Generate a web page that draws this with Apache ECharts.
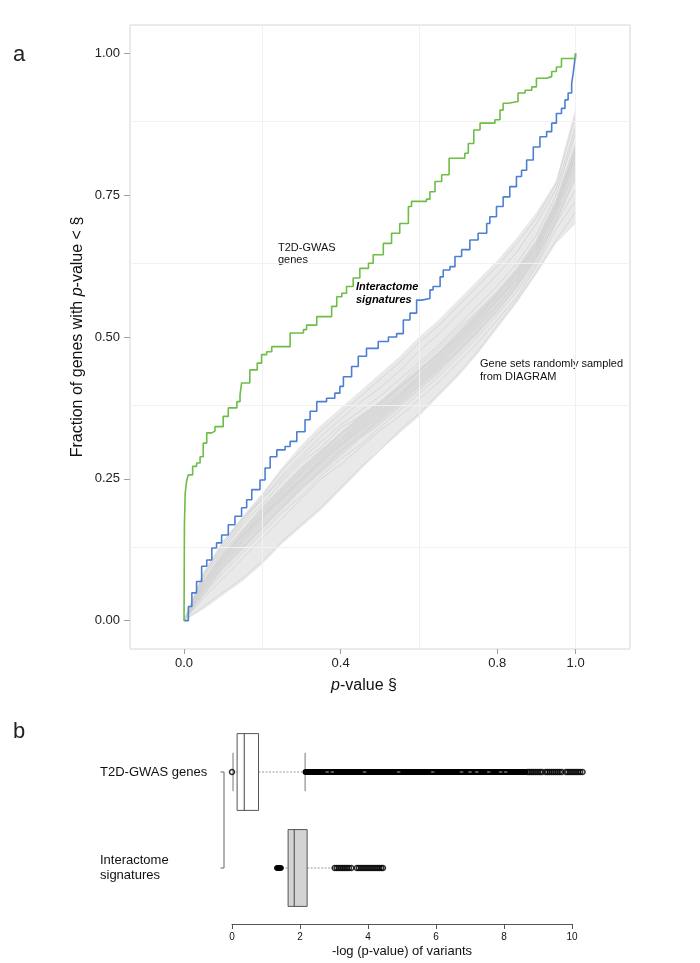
<!DOCTYPE html>
<html><head><meta charset="utf-8">
<script src="https://cdn.jsdelivr.net/npm/echarts@6/dist/echarts.min.js"></script>
<style>html,body{margin:0;padding:0;background:#fff}#c{width:700px;height:963px}</style>
</head><body><div id="c"></div>
<script>
// ---------- Panel a data ----------
const xTickValues = [0, 0.4, 0.8, 1.0];
const yTickValues = [0, 0.25, 0.5, 0.75, 1.0];
const xGridValues = [0.2, 0.6, 1.0];
const yGridValues = [0.125, 0.375, 0.625, 0.875];

const t2dP = [0,0.001,0.003,0.007,0.011,0.022,0.032,0.041,0.049,0.058,0.071,0.079,0.1,0.113,0.135,0.143,0.147,0.168,0.187,0.198,0.211,0.224,0.271,0.305,0.313,0.339,0.377,0.39,0.403,0.415,0.432,0.449,0.471,0.483,0.509,0.53,0.551,0.573,0.581,0.619,0.628,0.641,0.658,0.677,0.717,0.726,0.74,0.756,0.794,0.807,0.815,0.828,0.853,0.871,0.888,0.9,0.926,0.939,0.951,0.964,1.0];
const t2dFrac = [0,0.17,0.225,0.248,0.257,0.272,0.278,0.289,0.313,0.331,0.334,0.342,0.36,0.375,0.386,0.398,0.419,0.442,0.454,0.469,0.474,0.483,0.507,0.513,0.521,0.536,0.554,0.571,0.577,0.589,0.604,0.621,0.63,0.645,0.665,0.683,0.7,0.73,0.739,0.743,0.756,0.774,0.786,0.815,0.824,0.841,0.865,0.877,0.883,0.9,0.912,0.915,0.93,0.935,0.941,0.956,0.959,0.968,0.976,0.991,1.0];

const intP = [0,0.011,0.02,0.032,0.045,0.058,0.071,0.083,0.096,0.113,0.13,0.147,0.16,0.173,0.194,0.207,0.22,0.237,0.258,0.271,0.288,0.309,0.322,0.339,0.364,0.385,0.398,0.407,0.428,0.445,0.466,0.496,0.522,0.543,0.56,0.577,0.594,0.607,0.628,0.636,0.654,0.662,0.679,0.692,0.709,0.73,0.751,0.773,0.781,0.798,0.815,0.832,0.849,0.862,0.875,0.892,0.909,0.926,0.939,0.951,0.964,0.973,0.981,0.99,0.994,0.998,1.0];
const intFrac = [0,0.025,0.049,0.069,0.096,0.107,0.128,0.137,0.151,0.169,0.184,0.199,0.213,0.231,0.248,0.269,0.289,0.301,0.307,0.316,0.333,0.354,0.369,0.386,0.392,0.401,0.413,0.43,0.448,0.466,0.48,0.492,0.5,0.506,0.53,0.542,0.565,0.568,0.583,0.589,0.606,0.618,0.624,0.642,0.654,0.671,0.683,0.7,0.712,0.73,0.747,0.765,0.783,0.794,0.812,0.835,0.853,0.862,0.877,0.894,0.903,0.918,0.93,0.947,0.965,0.988,1.0];

// random DIAGRAM gene sets (read at p = 0, 0.05, ..., 1)
const randP    = [0,.05,.1,.15,.2,.25,.3,.35,.4,.45,.5,.55,.6,.65,.7,.75,.8,.85,.9,.95,1];
const randLow  = [0,.02,.045,.07,.10,.135,.165,.195,.23,.265,.30,.33,.36,.395,.43,.47,.515,.56,.61,.665,.70];
const randHigh = [0,.085,.14,.185,.225,.27,.31,.345,.375,.405,.435,.465,.50,.53,.565,.60,.635,.675,.72,.775,.905];
const randCoreLow  = [0,.045,.09,.125,.16,.195,.23,.26,.29,.32,.345,.375,.405,.435,.47,.505,.545,.585,.635,.70,.78];
const randCoreHigh = [0,.07,.12,.16,.20,.235,.27,.30,.33,.36,.385,.415,.445,.475,.51,.545,.58,.62,.67,.74,.84];
const rand01 = [0,.07,.12,.16,.20,.235,.27,.30,.33,.355,.38,.41,.44,.47,.505,.54,.575,.615,.665,.735,.83];
const rand02 = [0,.055,.10,.14,.18,.215,.245,.28,.31,.335,.36,.39,.42,.45,.485,.52,.555,.595,.645,.715,.80];
const rand03 = [0,.08,.13,.175,.215,.25,.285,.315,.345,.37,.395,.425,.455,.485,.52,.555,.59,.63,.68,.75,.86];
const rand04 = [0,.045,.085,.12,.155,.19,.22,.255,.285,.31,.34,.37,.40,.43,.465,.50,.54,.58,.63,.70,.76];
const rand05 = [0,.065,.115,.15,.19,.225,.26,.29,.32,.35,.375,.40,.43,.46,.495,.53,.565,.605,.655,.72,.82];
const rand06 = [0,.075,.125,.17,.205,.245,.28,.305,.34,.36,.385,.415,.45,.48,.515,.545,.58,.62,.67,.74,.84];
const rand07 = [0,.06,.105,.145,.185,.22,.25,.285,.315,.345,.37,.395,.425,.455,.49,.525,.565,.60,.65,.725,.81];
const rand08 = [0,.05,.095,.13,.165,.20,.235,.265,.30,.325,.355,.385,.415,.445,.475,.51,.545,.59,.64,.705,.78];
const rand09 = [0,.085,.14,.18,.22,.265,.30,.335,.365,.395,.425,.455,.49,.52,.555,.59,.625,.665,.71,.77,.89];
const rand10 = [0,.025,.05,.075,.105,.14,.17,.20,.235,.27,.30,.335,.365,.40,.435,.475,.52,.565,.615,.67,.72];
const rand11 = [0,.07,.11,.155,.195,.23,.265,.295,.33,.36,.385,.41,.44,.47,.50,.535,.57,.61,.66,.73,.83];
const rand12 = [0,.06,.11,.15,.185,.215,.25,.28,.31,.34,.365,.395,.43,.465,.50,.535,.575,.615,.66,.73,.82];
const rand13 = [0,.04,.075,.11,.145,.18,.215,.25,.275,.305,.335,.36,.39,.42,.455,.49,.53,.57,.625,.69,.74];
const rand14 = [0,.08,.135,.18,.215,.255,.29,.325,.355,.385,.41,.44,.475,.505,.54,.575,.61,.65,.70,.76,.87];
const randCurves = [rand01,rand02,rand03,rand04,rand05,rand06,rand07,rand08,rand09,rand10,rand11,rand12,rand13,rand14];

// ---------- Panel b data ----------
const boxCategories = ['T2D-GWAS genes', 'Interactome\nsignatures'];
// [whiskerLow, Q1, median, Q3, whiskerHigh]
const t2dBox = [0.03, 0.15, 0.36, 0.78, 2.15];
const intBox = [1.47, 1.65, 1.83, 2.21, 3.0];
const t2dOutlierRun = [2.15, 8.65];
const t2dOutliers = [0.0, 8.70, 8.76, 8.82, 8.88, 8.94, 9.00, 9.06, 9.12, 9.22, 9.28, 9.34, 9.40, 9.46, 9.52, 9.58, 9.64, 9.70, 9.82, 9.88, 9.94, 10.00, 10.06, 10.12, 10.18, 10.24, 10.31];
const t2dLightSpots = [2.8, 2.95, 3.9, 4.9, 5.9, 6.75, 7.0, 7.2, 7.55, 7.9, 8.05];
const intOutliersLow = [1.32, 1.35, 1.38, 1.41, 1.44];
const intOutliersHigh = [3.02, 3.08, 3.14, 3.20, 3.26, 3.32, 3.38, 3.44, 3.51, 3.67, 3.73, 3.79, 3.85, 3.91, 3.97, 4.03, 4.09, 4.15, 4.21, 4.27, 4.33, 4.39, 4.44];

// ---------- chart ----------
const FONT = "'Liberation Sans', Arial, Helvetica, sans-serif";
const chart = echarts.init(document.getElementById('c'), null, {renderer: 'canvas'});

const boxStyles = [{fill: '#ffffff', staple: true}, {fill: '#d3d3d3', staple: false}];

function bandPolygon(low, high, fill) {
  return function (params, api) {
    const pts = [];
    for (let i = 0; i < randP.length; i++) pts.push(api.coord([randP[i], high[i]]));
    for (let i = randP.length - 1; i >= 0; i--) pts.push(api.coord([randP[i], low[i]]));
    return {type: 'polygon', shape: {points: pts}, style: {fill: fill}};
  };
}

const series = [];
// gridlines (panel a)
series.push({
  type: 'line', xAxisIndex: 0, yAxisIndex: 0, data: [[0, 0]], symbol: 'none',
  lineStyle: {opacity: 0}, z: 0, silent: true,
  markLine: {
    silent: true, symbol: 'none', label: {show: false},
    lineStyle: {color: '#f1f1f1', width: 1, type: 'solid'},
    data: xGridValues.map(v => ({xAxis: v})).concat(yGridValues.map(v => ({yAxis: v})))
  }
});
// band of random sets
series.push({type: 'custom', xAxisIndex: 0, yAxisIndex: 0, data: [[0]], z: 1, silent: true,
  renderItem: bandPolygon(randLow, randHigh, '#e9e9e9')});
series.push({type: 'custom', xAxisIndex: 0, yAxisIndex: 0, data: [[0]], z: 1, silent: true,
  renderItem: bandPolygon(randCoreLow, randCoreHigh, '#dddddd')});
randCurves.forEach(function (c) {
  series.push({
    type: 'line', xAxisIndex: 0, yAxisIndex: 0, symbol: 'none', silent: true, z: 2,
    data: randP.map((p, i) => [p, c[i]]),
    lineStyle: {color: '#cecece', width: 0.7}
  });
});
series.push({
  type: 'line', name: 'Interactome signatures', xAxisIndex: 0, yAxisIndex: 0, symbol: 'none', step: 'end', z: 5,
  data: intP.map((p, i) => [p, intFrac[i]]),
  lineStyle: {color: '#4c7fd3', width: 1.6}
});
series.push({
  type: 'line', name: 'T2D-GWAS genes', xAxisIndex: 0, yAxisIndex: 0, symbol: 'none', step: 'end', z: 6,
  data: t2dP.map((p, i) => [p, t2dFrac[i]]),
  lineStyle: {color: '#6dbd47', width: 1.6}
});

// Panel b: bracket
series.push({
  type: 'custom', xAxisIndex: 1, yAxisIndex: 1, data: [[0, 0]], clip: false, silent: true, z: 3,
  renderItem: function (params, api) {
    const a = api.coord([0, 0]), b = api.coord([0, 1]);
    const x = a[0] - 8;
    return {type: 'polyline', shape: {points: [[x - 3.5, a[1]], [x, a[1]], [x, b[1]], [x - 3.5, b[1]]]},
      style: {stroke: '#666', lineWidth: 1, fill: null}};
  }
});
// Panel b: boxes
series.push({
  type: 'custom', xAxisIndex: 1, yAxisIndex: 1, clip: false, silent: true, z: 4,
  data: [[0].concat(t2dBox), [1].concat(intBox)],
  renderItem: function (params, api) {
    const cat = api.value(0);
    const xs = [1, 2, 3, 4, 5].map(j => api.coord([api.value(j), cat])[0]);
    const yc = api.coord([0, cat])[1];
    const h = api.size([0, 1])[1] * 0.8;
    const st = boxStyles[params.dataIndex];
    const ch = [];
    const wStyle = {stroke: '#9a9a9a', lineWidth: 1, lineDash: [2, 1.5]};
    ch.push({type: 'line', shape: {x1: xs[0], y1: yc, x2: xs[1], y2: yc}, style: wStyle});
    ch.push({type: 'line', shape: {x1: xs[3], y1: yc, x2: xs[4], y2: yc}, style: wStyle});
    if (st.staple) {
      ch.push({type: 'line', shape: {x1: xs[0], y1: yc - h / 4, x2: xs[0], y2: yc + h / 4}, style: {stroke: '#777', lineWidth: 1}});
      ch.push({type: 'line', shape: {x1: xs[4], y1: yc - h / 4, x2: xs[4], y2: yc + h / 4}, style: {stroke: '#777', lineWidth: 1}});
    }
    ch.push({type: 'rect', shape: {x: xs[1], y: yc - h / 2, width: xs[3] - xs[1], height: h}, style: {fill: st.fill, stroke: '#555', lineWidth: 1}});
    ch.push({type: 'line', shape: {x1: xs[2], y1: yc - h / 2, x2: xs[2], y2: yc + h / 2}, style: {stroke: '#444', lineWidth: 1}});
    return {type: 'group', children: ch};
  }
});
// T2D dense outlier run (points overlap into a solid bar)
series.push({
  type: 'custom', xAxisIndex: 1, yAxisIndex: 1, clip: false, silent: true, z: 5,
  data: [[t2dOutlierRun[0], t2dOutlierRun[1], 0]],
  renderItem: function (params, api) {
    const a = api.coord([api.value(0), api.value(2)]), b = api.coord([api.value(1), api.value(2)]);
    return {type: 'rect', shape: {x: a[0] - 2.5, y: a[1] - 3, width: b[0] - a[0] + 5, height: 6, r: 3}, style: {fill: '#000'}};
  }
});
series.push({
  type: 'scatter', xAxisIndex: 1, yAxisIndex: 1, clip: false, silent: true, z: 6,
  data: t2dLightSpots.map(v => [v, 0]), symbol: 'circle', symbolSize: [4, 2],
  itemStyle: {color: '#8a8a8a', opacity: 0.7}
});
series.push({
  type: 'scatter', xAxisIndex: 1, yAxisIndex: 1, clip: false, silent: true, z: 6,
  data: t2dOutliers.map(v => [v, 0]), symbol: 'circle', symbolSize: 5,
  itemStyle: {color: 'rgba(255,255,255,0)', borderColor: '#000', borderWidth: 1.5}
});
series.push({
  type: 'scatter', xAxisIndex: 1, yAxisIndex: 1, clip: false, silent: true, z: 6,
  data: intOutliersLow.map(v => [v, 1]), symbol: 'circle', symbolSize: 5,
  itemStyle: {color: '#000', borderColor: '#000', borderWidth: 1}
});
series.push({
  type: 'scatter', xAxisIndex: 1, yAxisIndex: 1, clip: false, silent: true, z: 6,
  data: intOutliersHigh.map(v => [v, 1]), symbol: 'circle', symbolSize: 5,
  itemStyle: {color: 'rgba(255,255,255,0)', borderColor: '#000', borderWidth: 1.5}
});

const option = {
  backgroundColor: '#fff',
  animation: false,
  textStyle: {fontFamily: FONT},
  grid: [
    {left: 130, top: 25, width: 500, height: 624, show: true, borderColor: '#d6d6d6', borderWidth: 1, backgroundColor: 'transparent', outerBoundsMode: 'none'},
    {left: 232, top: 724, width: 340, height: 192, show: false, outerBoundsMode: 'none'}
  ],
  xAxis: [
    {type: 'value', gridIndex: 0, min: -0.138, max: 1.139,
      axisLine: {show: false, onZero: false}, splitLine: {show: false},
      axisTick: {show: true, length: 5, customValues: xTickValues, lineStyle: {color: '#a0a0a0'}},
      axisLabel: {customValues: xTickValues, formatter: v => v.toFixed(1), color: '#222', fontSize: 13, fontFamily: FONT, margin: 8}},
    {type: 'value', gridIndex: 1, min: 0, max: 10, interval: 2, offset: 8,
      axisLine: {show: true, onZero: false, lineStyle: {color: '#555', width: 1}}, splitLine: {show: false},
      axisTick: {show: true, length: 5, lineStyle: {color: '#555'}},
      axisLabel: {color: '#111', fontSize: 10, fontFamily: FONT, margin: 8},
      name: '-log (p-value) of variants', nameLocation: 'middle', nameGap: 21,
      nameTextStyle: {fontSize: 13, color: '#111', fontFamily: FONT}}
  ],
  yAxis: [
    {type: 'value', gridIndex: 0, min: -0.05, max: 1.05,
      axisLine: {show: false, onZero: false}, splitLine: {show: false},
      axisTick: {show: true, length: 6, customValues: yTickValues, lineStyle: {color: '#a0a0a0'}},
      axisLabel: {customValues: yTickValues, formatter: v => v.toFixed(2), color: '#222', fontSize: 13, fontFamily: FONT, margin: 10}},
    {type: 'category', gridIndex: 1, data: boxCategories, inverse: true,
      axisLine: {show: false, onZero: false}, axisTick: {show: false}, splitLine: {show: false},
      axisLabel: {align: 'left', margin: 132, color: '#111', fontSize: 13, lineHeight: 15, fontFamily: FONT, padding: [3, 0, 0, 0]}}
  ],
  graphic: [
    {type: 'text', x: 13, y: 44, style: {text: 'a', fontSize: 22, fontFamily: FONT, fill: '#222', verticalAlign: 'alphabetic'}},
    {type: 'text', x: 13, y: 721, style: {text: 'b', fontSize: 22, fontFamily: FONT, fill: '#222', verticalAlign: 'alphabetic'}},
    {type: 'text', x: 78, y: 337, rotation: Math.PI / 2,
      style: {text: 'Fraction of genes with {i|p}-value < §', fontSize: 16, fontFamily: FONT, fill: '#111', align: 'center', verticalAlign: 'middle',
        rich: {i: {fontStyle: 'italic', fontSize: 16, fontFamily: FONT, fill: '#111'}}}},
    {type: 'text', x: 364, y: 686,
      style: {text: '{i|p}-value §', fontSize: 16, fontFamily: FONT, fill: '#111', align: 'center', verticalAlign: 'middle',
        rich: {i: {fontStyle: 'italic', fontSize: 16, fontFamily: FONT, fill: '#111'}}}},
    {type: 'text', x: 278, y: 254, style: {text: 'T2D-GWAS\ngenes', fontSize: 11, lineHeight: 12.5, fontFamily: FONT, fill: '#111', verticalAlign: 'middle'}},
    {type: 'text', x: 356, y: 293.5, style: {text: 'Interactome\nsignatures', fontSize: 11, lineHeight: 13, fontWeight: 'bold', fontStyle: 'italic', fontFamily: FONT, fill: '#000', verticalAlign: 'middle'}},
    {type: 'text', x: 480, y: 370.5, style: {text: 'Gene sets randomly sampled\nfrom DIAGRAM', fontSize: 11, lineHeight: 13, fontFamily: FONT, fill: '#111', verticalAlign: 'middle'}}
  ],
  series: series
};
chart.setOption(option);
</script>
</body></html>
